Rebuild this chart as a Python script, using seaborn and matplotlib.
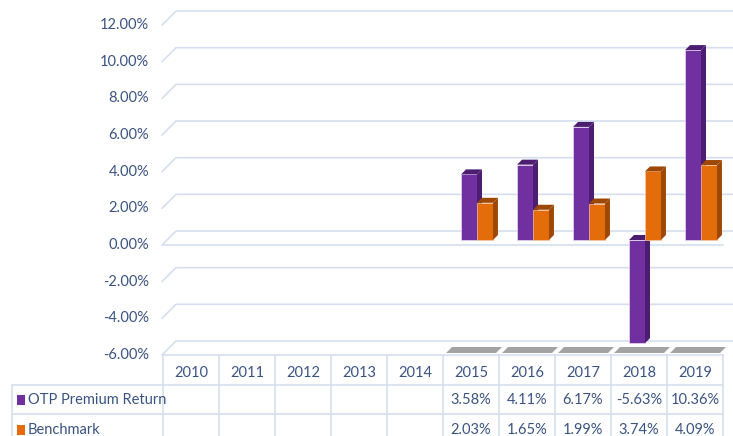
import matplotlib
matplotlib.use("Agg")
import matplotlib.pyplot as plt
from matplotlib.patches import Polygon, Rectangle
from matplotlib.lines import Line2D
import seaborn as sns
import pandas as pd
import numpy as np

years = ["2010", "2011", "2012", "2013", "2014", "2015", "2016", "2017", "2018", "2019"]
otp_return = [np.nan, np.nan, np.nan, np.nan, np.nan, 3.58, 4.11, 6.17, -5.63, 10.36]
benchmark = [np.nan, np.nan, np.nan, np.nan, np.nan, 2.03, 1.65, 1.99, 3.74, 4.09]
series_names = ["OTP Premium Return", "Benchmark"]
y_ticks = [-6, -4, -2, 0, 2, 4, 6, 8, 10, 12]

colors = ["#7030A0", "#E46C0A"]
dark_colors = ["#4C1D70", "#9E4805"]
grid_col = "#D5DFEF"
text_col = "#3A5482"

sns.set_theme(style="white")
plt.rcParams['font.family'] = ['Lato', 'DejaVu Sans']
plt.rcParams['font.size'] = 10.5

W, H = 733, 436
PX = 18.33     # pixels per percent
ZERO = 240     # pixel row of the bars' zero level
COL = 56       # table column width in pixels
LEFT = 163

def xd(px):
    return (px - LEFT) / COL - 0.5

def yd(py):
    return (ZERO - py) / PX

def fx(px):
    return px / W

def fy(py):
    return 1 - py / H

fig = plt.figure(figsize=(W / 100, H / 100), dpi=100)
ax = fig.add_axes([fx(LEFT), fy(355), (COL * 10) / W, 355 / H])

df = pd.DataFrame({
    "year": years * 2,
    "value": otp_return + benchmark,
    "series": [series_names[0]] * len(years) + [series_names[1]] * len(years),
})
sns.barplot(data=df, x="year", y="value", hue="series", order=years,
            hue_order=series_names, palette=colors, width=0.57, saturation=1,
            errorbar=None, legend=False, ax=ax)

ax.set_xlim(-0.5, 9.5)
ax.set_ylim(yd(355), yd(0))
ax.axis("off")

# back wall gridlines + y labels at the front
for v in y_ticks:
    front = 245 - v * PX
    back = front - 14
    ax.plot([xd(162), xd(176), xd(733)], [yd(front), yd(back), yd(back)],
            color=grid_col, lw=1.2, clip_on=False, zorder=0)
    fig.text(fx(149), fy(front), f"{v:.2f}%", ha="right", va="center",
             color=text_col, fontsize=10.5)
ax.plot([xd(163), xd(723)], [yd(245), yd(245)], color=grid_col, lw=1.2,
        clip_on=False, zorder=0)

# floor shadows under the years that have data
for i, val in enumerate(otp_return):
    if np.isnan(val):
        continue
    x0 = LEFT + COL * i
    pts = [(x0 + 3, 353), (x0 + 53, 353), (x0 + 59, 347), (x0 + 9, 347)]
    ax.add_patch(Polygon([(xd(a), yd(b)) for a, b in pts], closed=True,
                         facecolor="#A3A3A3", edgecolor="none", clip_on=False, zorder=1))

# 3D look for the bars
dx = 5 / COL
dy = 5 / PX
shift = 6 / COL
for p in list(ax.patches):
    if not isinstance(p, Rectangle):
        continue
    h = p.get_height()
    if not np.isfinite(h) or h == 0:
        continue
    fc = matplotlib.colors.to_hex(p.get_facecolor())
    k = 0 if fc.lower() == colors[0].lower() else 1
    p.set_x(p.get_x() + shift)
    p.set_edgecolor("#E9DDF2" if k == 0 else "#F6C9A4")
    p.set_linewidth(0.5)
    p.set_zorder(2 + k)
    x0, w = p.get_x(), p.get_width()
    top, bot = max(0, h), min(0, h)
    side = [(x0 + w, bot), (x0 + w + dx, bot + dy), (x0 + w + dx, top + dy), (x0 + w, top)]
    cap = [(x0, top), (x0 + w, top), (x0 + w + dx, top + dy), (x0 + dx, top + dy)]
    ax.add_patch(Polygon(side, closed=True, facecolor=dark_colors[k], edgecolor="none", zorder=2 + k))
    ax.add_patch(Polygon(cap, closed=True, facecolor=dark_colors[k], edgecolor="none", zorder=2 + k))

# data table below the chart
def hline(y, x0, x1):
    fig.add_artist(Line2D([fx(x0), fx(x1)], [fy(y), fy(y)], color=grid_col, lw=1.2))

def vline(x, y0, y1):
    fig.add_artist(Line2D([fx(x), fx(x)], [fy(y0), fy(y1)], color=grid_col, lw=1.2))

hline(355, LEFT, LEFT + COL * 10)
hline(385, 12, LEFT + COL * 10)
hline(414, 12, LEFT + COL * 10)
vline(12, 385, 436)
for k in range(len(years) + 1):
    vline(LEFT + COL * k, 355, 436)

row_y = [400, 430]
for i, yr in enumerate(years):
    cx = LEFT + COL * i + COL / 2
    fig.text(fx(cx), fy(373), yr, ha="center", va="center", color=text_col, fontsize=10.5)
    for r, vals in enumerate([otp_return, benchmark]):
        if not np.isnan(vals[i]):
            fig.text(fx(cx), fy(row_y[r]), f"{vals[i]:.2f}%", ha="center", va="center",
                     color=text_col, fontsize=10.5)

for r, name in enumerate(series_names):
    fig.add_artist(Rectangle((fx(17), fy(row_y[r] + 5)), 8 / W, 10 / H,
                             facecolor=colors[r], edgecolor="none"))
    fig.text(fx(28), fy(row_y[r]), name, ha="left", va="center", color=text_col, fontsize=10.5)

fig.savefig("out.png", dpi=100)
